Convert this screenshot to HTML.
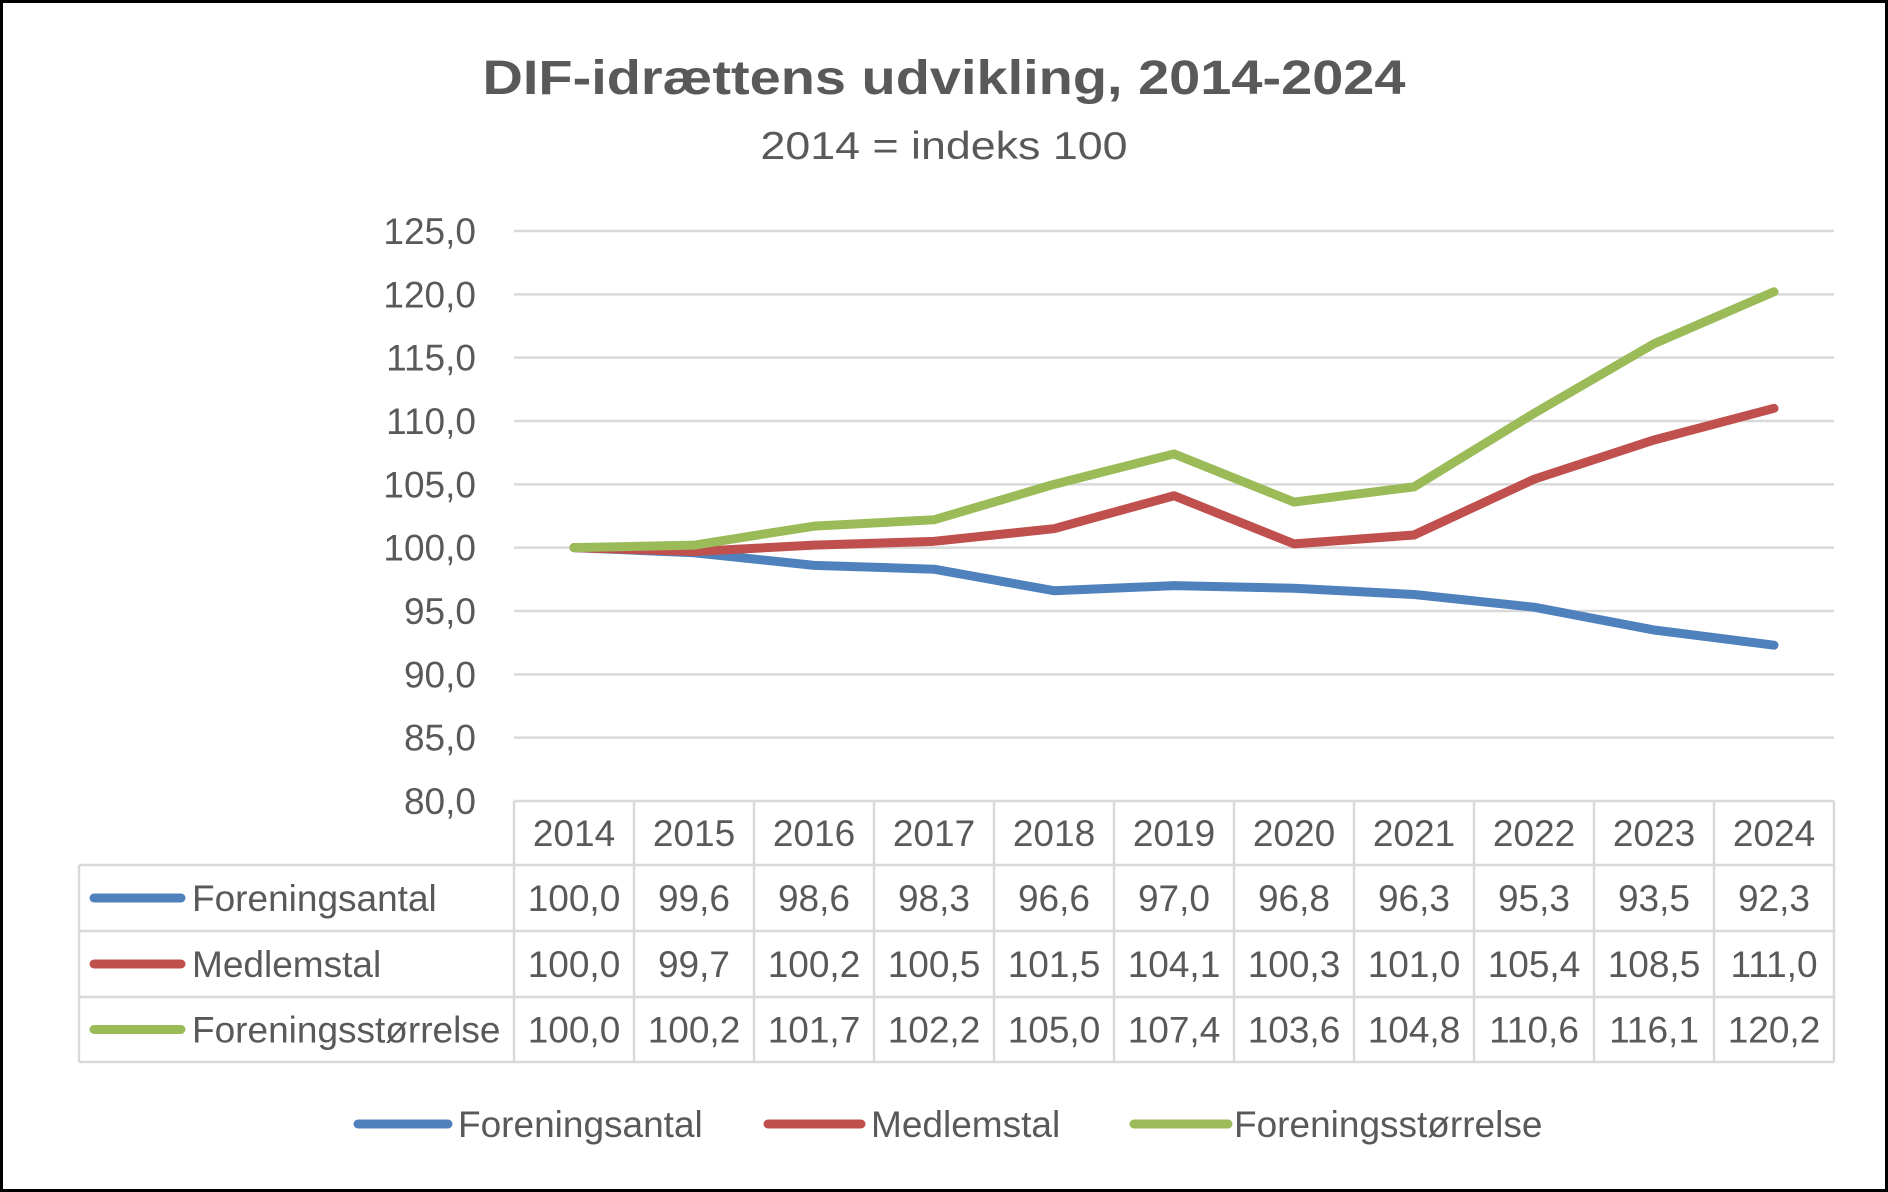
<!DOCTYPE html>
<html><head><meta charset="utf-8"><style>
html,body{margin:0;padding:0;background:#fff}
svg{display:block;font-family:"Liberation Sans",sans-serif}
</style></head><body>
<svg id="chart" width="1888" height="1192" viewBox="0 0 1888 1192">
<rect x="1.5" y="1.5" width="1885" height="1189" fill="#fff" stroke="#000" stroke-width="3"/>
<text x="944" y="94" text-anchor="middle" font-size="48" font-weight="bold" fill="#595959" textLength="923" lengthAdjust="spacingAndGlyphs">DIF-idrættens udvikling, 2014-2024</text>
<text x="944" y="159" text-anchor="middle" font-size="39" fill="#595959" textLength="367" lengthAdjust="spacingAndGlyphs">2014 = indeks 100</text>
<g id="grid"></g><g id="yticks"></g><g id="table"></g><g id="lines"></g><g id="legend"></g>
</svg>
<script>
const years = ["2014","2015","2016","2017","2018","2019","2020","2021","2022","2023","2024"];
const seriesNames = ["Foreningsantal","Medlemstal","Foreningsstørrelse"];
const foreningsantal = [100.0,99.6,98.6,98.3,96.6,97.0,96.8,96.3,95.3,93.5,92.3];
const medlemstal = [100.0,99.7,100.2,100.5,101.5,104.1,100.3,101.0,105.4,108.5,111.0];
const foreningsstorrelse = [100.0,100.2,101.7,102.2,105.0,107.4,103.6,104.8,110.6,116.1,120.2];
const yTicks = [80,85,90,95,100,105,110,115,120,125];
const colors = ["#4f81bd","#c0504d","#9bbb59"];
const allSeries = [foreningsantal, medlemstal, foreningsstorrelse];

const NS = "http://www.w3.org/2000/svg";
const L = 514, R = 1834, T = 231, B = 801, yMin = 80, yMax = 125;
const FS = 37, OFF = 13;
const colW = (R - L) / years.length;
const xPos = i => L + colW * (i + 0.5);
const yPos = v => B - (v - yMin) / (yMax - yMin) * (B - T);
function mk(tag, attrs, parent, txt) {
  const e = document.createElementNS(NS, tag);
  for (const k in attrs) e.setAttribute(k, attrs[k]);
  if (txt !== undefined) e.textContent = txt;
  parent.appendChild(e);
  return e;
}
const fmt = v => v.toFixed(1).replace(".", ",");
const grid = document.getElementById("grid"), yt = document.getElementById("yticks");
yTicks.forEach(t => {
  if (t !== yMin) {
    const g = mk("line", {x1: L, x2: R, y1: yPos(t), y2: yPos(t), stroke: "#d9d9d9", "stroke-width": 2.5}, grid);
    
    
  }
  const lb = mk("text", {x: 476, y: yPos(t) + OFF, "text-anchor": "end", "font-size": FS, fill: "#595959"}, yt, fmt(t));
  
  
});
const tb = document.getElementById("table");
const rowY = [801, 865, 931, 997, 1062];
const TL = 79;
const tc = {stroke: "#d9d9d9", "stroke-width": 2.5};
mk("line", Object.assign({x1: L, x2: R, y1: rowY[0], y2: rowY[0]}, tc), tb);
for (let r = 1; r < rowY.length; r++) mk("line", Object.assign({x1: TL, x2: R, y1: rowY[r], y2: rowY[r]}, tc), tb);
mk("line", Object.assign({x1: TL, x2: TL, y1: rowY[1], y2: rowY[4]}, tc), tb);
for (let i = 0; i <= years.length; i++) mk("line", Object.assign({x1: L + colW * i, x2: L + colW * i, y1: rowY[0], y2: rowY[4]}, tc), tb);
years.forEach((y, i) => {
  const t = mk("text", {x: xPos(i), y: (rowY[0] + rowY[1]) / 2 + OFF, "text-anchor": "middle", "font-size": FS, fill: "#595959"}, tb, y);
  
  
});
allSeries.forEach((s, r) => {
  const cy = (rowY[r + 1] + rowY[r + 2]) / 2;
  const k = mk("line", {x1: 94, x2: 181, y1: cy, y2: cy, stroke: colors[r], "stroke-width": 9, "stroke-linecap": "round"}, tb);
  
  
  const n = mk("text", {x: 192, y: cy + OFF, "font-size": FS, fill: "#595959"}, tb, seriesNames[r]);
  
  
  s.forEach((v, i) => {
    const c = mk("text", {x: xPos(i), y: cy + OFF, "text-anchor": "middle", "font-size": FS, fill: "#595959"}, tb, fmt(v));
    
    
  });
});
const lg = document.getElementById("lines");
allSeries.forEach((s, r) => {
  const p = mk("polyline", {points: s.map((v, i) => xPos(i) + "," + yPos(v)).join(" "), fill: "none", stroke: colors[r], "stroke-width": 9, "stroke-linecap": "round", "stroke-linejoin": "round"}, lg);
  
  
});
const leg = document.getElementById("legend");
const legX = [[358, 448, 458], [768, 861, 871], [1134, 1228, 1234]];
seriesNames.forEach((n, r) => {
  const k = mk("line", {x1: legX[r][0], x2: legX[r][1], y1: 1124, y2: 1124, stroke: colors[r], "stroke-width": 9, "stroke-linecap": "round"}, leg);
  
  
  const t = mk("text", {x: legX[r][2], y: 1124 + OFF, "font-size": FS, fill: "#595959"}, leg, n);
  
  
});
</script>
</body></html>
